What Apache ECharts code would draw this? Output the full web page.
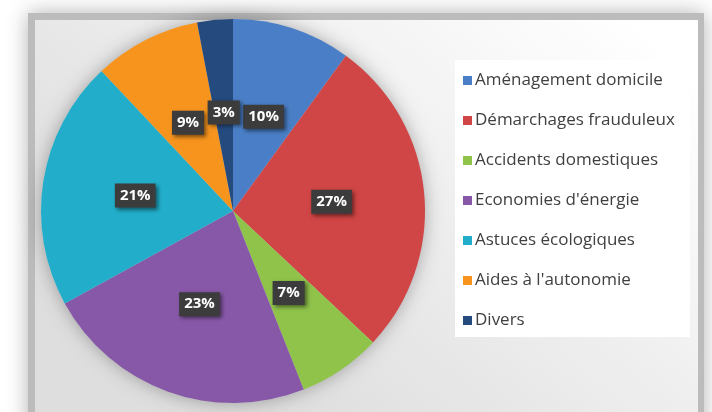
<!DOCTYPE html>
<html>
<head>
<meta charset="utf-8">
<script src="https://cdn.jsdelivr.net/npm/echarts@6/dist/echarts.min.js"></script>
<style>
  html, body { margin: 0; padding: 0; background: #ffffff; }
  #chart { width: 712px; height: 412px; }
</style>
</head>
<body>
<div id="chart"></div>
<script>
// Topics and their share (%)
const categories = [
  'Aménagement domicile',
  'Démarchages frauduleux',
  'Accidents domestiques',
  "Economies d'énergie",
  'Astuces écologiques',
  "Aides à l'autonomie",
  'Divers'
];
const shares = [10, 27, 7, 23, 21, 9, 3];
const palette = ['#4a7fc7', '#d04545', '#8fc34a', '#8758a8', '#22aecb', '#f7941e', '#244a7e'];

const chart = echarts.init(document.getElementById('chart'), null, { renderer: 'canvas' });

const pieCenter = [233, 211];
const pieRadius = 192;

chart.setOption({
  animation: false,
  color: palette,
  textStyle: { fontFamily: '"Open Sans", sans-serif' },
  graphic: [
    // outer card frame with soft drop shadow
    {
      type: 'rect', z: -10, silent: true,
      shape: { x: 28, y: 13, width: 676, height: 420 },
      style: {
        fill: '#bcbcbc',
        shadowBlur: 20, shadowColor: 'rgba(0,0,0,0.3)', shadowOffsetX: 0, shadowOffsetY: 0
      }
    },
    // inner panel, light gradient
    {
      type: 'rect', z: -9, silent: true,
      shape: { x: 35, y: 20, width: 663, height: 410 },
      style: {
        fill: new echarts.graphic.LinearGradient(0.9, 0, 0.4, 1, [
          { offset: 0, color: '#ffffff' },
          { offset: 1, color: '#dedede' }
        ])
      }
    },
    // halo under the pie
    {
      type: 'circle', z: -8, silent: true,
      shape: { cx: pieCenter[0], cy: pieCenter[1], r: pieRadius },
      style: { fill: '#cccccc', shadowBlur: 18, shadowColor: 'rgba(0,0,0,0.3)' }
    },
    // legend box
    {
      type: 'rect', z: -7, silent: true,
      shape: { x: 455, y: 60, width: 235, height: 277 },
      style: { fill: '#ffffff' }
    }
  ],
  legend: {
    orient: 'vertical',
    left: 458,
    top: 67,
    itemWidth: 9,
    itemHeight: 9,
    itemGap: 23,
    icon: 'rect',
    textStyle: {
      fontSize: 17, lineHeight: 17, color: '#404040',
      fontFamily: '"Open Sans", sans-serif', padding: [0, 0, 0, -2]
    },
    data: categories
  },
  series: [{
    type: 'pie',
    center: pieCenter,
    radius: pieRadius,
    startAngle: 90,
    clockwise: true,
    silent: true,
    label: {
      show: true,
      position: 'inside',
      formatter: '{c}%',
      color: '#ffffff',
      fontWeight: 'bold',
      fontSize: 15,
      fontFamily: '"Open Sans", sans-serif',
      backgroundColor: '#3c3c3c',
      padding: [5, 5, 4, 5],
      shadowBlur: 4,
      shadowColor: 'rgba(0,0,0,0.5)',
      shadowOffsetX: 2,
      shadowOffsetY: 2
    },
    labelLine: { show: false },
    itemStyle: { borderWidth: 0 },
    data: categories.map((name, i) => ({ name, value: shares[i] }))
  }]
});
</script>
</body>
</html>
